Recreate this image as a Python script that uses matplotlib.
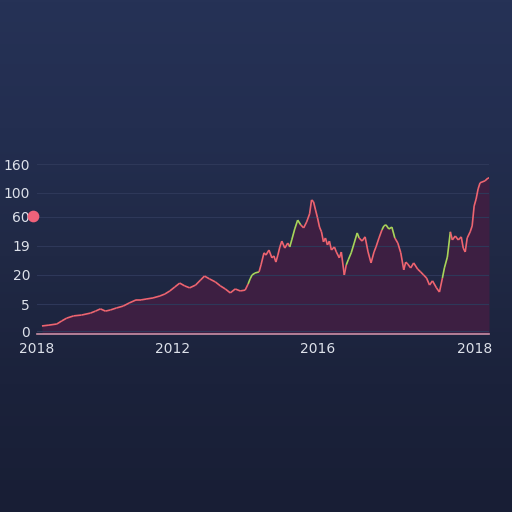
import numpy as np
import matplotlib
matplotlib.use("Agg")
import matplotlib.pyplot as plt
from matplotlib.collections import LineCollection
from matplotlib.colors import LinearSegmentedColormap

# --- data ---
days = [1, 8, 16, 21, 26, 33, 41, 50, 55, 60,
        65, 70, 76, 83, 89, 96, 101, 106, 113, 120,
        125, 130, 135, 140, 145, 150, 156, 161, 165, 170,
        176, 181, 186, 191, 196, 201,
        206, 209, 211, 213, 216, 220, 222, 225, 227, 230,
        233, 235, 237, 239, 241, 243, 246, 249, 251, 253,
        256, 259, 262, 265, 268, 271, 273, 275, 277, 279,
        281, 283, 285, 287, 289, 291, 293, 296, 298, 301,
        303, 306, 308, 310, 313, 316, 319, 321, 324, 327,
        330, 333, 336, 338, 341, 344, 346, 348, 351, 354,
        357, 360, 363, 366, 368, 370, 373, 376, 380, 383,
        386, 389, 392, 395, 399, 402, 405, 407, 410, 413,
        415, 418, 421, 424, 426, 428, 430, 433, 435, 437,
        439, 441, 443, 448, 451, 452]
values = [0.18, 0.21, 0.25, 0.36, 0.46, 0.54, 0.57, 0.64, 0.71, 0.79,
          0.71, 0.75, 0.82, 0.89, 1.00, 1.11, 1.11, 1.14, 1.18, 1.25,
          1.32, 1.43, 1.57, 1.71, 1.61, 1.54, 1.64, 1.82, 1.96, 1.86,
          1.75, 1.61, 1.50, 1.36, 1.50, 1.43,
          1.46, 1.68, 1.86, 2.00, 2.07, 2.11, 2.36, 2.79, 2.71, 2.89,
          2.61, 2.68, 2.46, 2.71, 3.00, 3.21, 2.96, 3.14, 3.00, 3.25,
          3.64, 3.96, 3.79, 3.68, 3.89, 4.18, 4.68, 4.61, 4.32, 4.04,
          3.71, 3.54, 3.18, 3.32, 3.07, 3.21, 2.89, 3.00, 2.82, 2.61,
          2.82, 2.00, 2.36, 2.54, 2.79, 3.14, 3.50, 3.32, 3.21, 3.36,
          2.82, 2.43, 2.82, 3.00, 3.32, 3.61, 3.75, 3.79, 3.64, 3.71,
          3.32, 3.14, 2.79, 2.18, 2.46, 2.39, 2.25, 2.43, 2.21, 2.11,
          2.00, 1.89, 1.64, 1.79, 1.54, 1.39, 1.89, 2.25, 2.64, 3.54,
          3.25, 3.39, 3.25, 3.36, 2.96, 2.82, 3.32, 3.54, 3.75, 4.46,
          4.71, 5.07, 5.29, 5.36, 5.46, 5.46]

# stretches where the line turns green
green_ranges = [(209, 220), (252, 263), (308, 320), (343, 358), (405, 413)]

ytick_pos = [0, 0.96, 2.0, 3.04, 4.07, 4.93, 5.96]
ytick_labels = ["0", "5", "20", "19", "60", "100", "160"]
xtick_pos = [-4, 133, 279, 437]
xtick_labels = ["2018", "2012", "2016", "2018"]
marker_day, marker_val = -8, 4.11

RED = "#ee6470"
GREEN = "#a8d45a"
TXT = "#dde1ea"

fig = plt.figure(figsize=(5.12, 5.12), dpi=100)

# background gradient, lighter navy at top fading darker at bottom
bg = fig.add_axes([0, 0, 1, 1], zorder=-1)
cmap = LinearSegmentedColormap.from_list("bg", ["#263256", "#232e50", "#202945", "#1b223b", "#181e35"])
bg.imshow(np.linspace(0, 1, 256).reshape(-1, 1), aspect="auto", cmap=cmap, extent=[0, 1, 0, 1])
bg.axis("off")

ax = fig.add_axes([37 / 512, 1 - 334 / 512, 452 / 512, 184 / 512])
ax.set_facecolor("none")
ax.set_xlim(0, 452)
ax.set_ylim(-0.107, 6.46)

ax.fill_between(days, values, -0.107, color="#3d1f42", zorder=1, linewidth=0)

x = np.array(days)
y = np.array(values)
segs = [[(x[i], y[i]), (x[i + 1], y[i + 1])] for i in range(len(x) - 1)]
cols = []
for i in range(len(x) - 1):
    mid = (x[i] + x[i + 1]) / 2
    g = any(a <= mid <= b for a, b in green_ranges)
    cols.append(GREEN if g else RED)
ax.add_collection(LineCollection(segs, colors=cols, linewidths=1.2, zorder=3))

ax.set_yticks(ytick_pos)
ax.set_yticklabels(ytick_labels)
ax.set_xticks(xtick_pos)
ax.set_xticklabels(xtick_labels)
ax.tick_params(colors=TXT, labelsize=10, length=0)
ax.tick_params(axis="y", pad=5)
ax.tick_params(axis="x", pad=6)
ax.grid(axis="y", color="#2e3859", linewidth=0.8, zorder=0)
ax.grid(axis="x", visible=False)
for s in ["top", "right", "left"]:
    ax.spines[s].set_visible(False)
ax.spines["bottom"].set_color("#c98fa5")
ax.spines["bottom"].set_linewidth(1.2)

ax.scatter([marker_day], [marker_val], s=55, color="#f0627a", clip_on=False, zorder=5)

fig.savefig("out.png", dpi=100)
